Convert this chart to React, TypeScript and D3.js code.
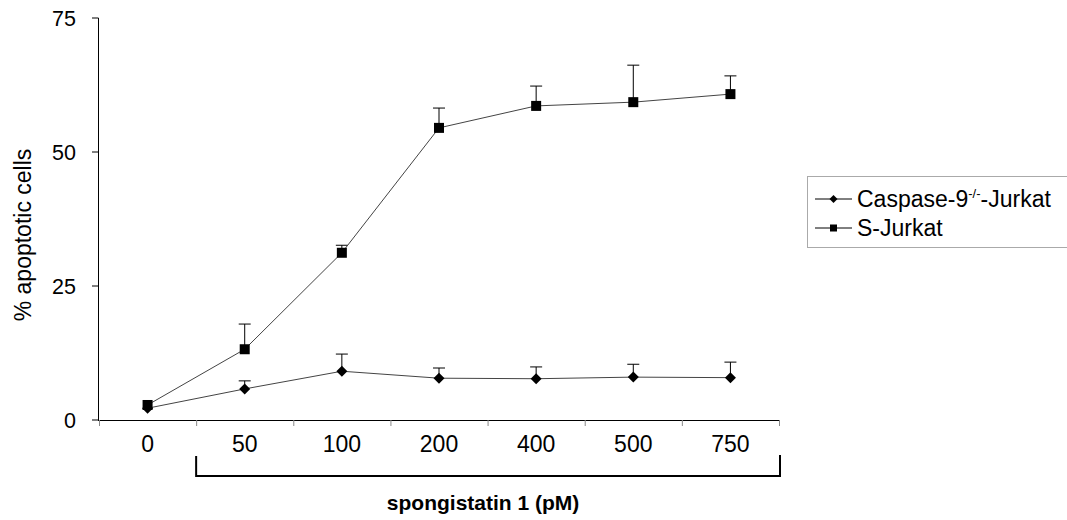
import React from 'react';
import * as d3 from 'd3';

// doses (pM) on the category axis
const doses = ['0', '50', '100', '200', '400', '500', '750'];
const yTicks = [0, 25, 50, 75];

// S-Jurkat (squares)
const sJurkat = [2.8, 13.2, 31.2, 54.5, 58.6, 59.3, 60.8];
const sJurkatErr = [0, 4.7, 1.4, 3.7, 3.7, 6.9, 3.4];

// Caspase-9-/- Jurkat (diamonds)
const casp9 = [2.2, 5.8, 9.1, 7.8, 7.7, 8.0, 7.9];
const casp9Err = [0, 1.5, 3.2, 1.9, 2.2, 2.4, 2.9];

const FONT = '"Liberation Sans", Arial, sans-serif';

const App = () => {
  const x = d3.scaleBand<string>().domain(doses).range([99, 779]).padding(0);
  const y = d3.scaleLinear().domain([0, 75]).range([420, 18]);
  const cx = (d: string) => (x(d) as number) + x.bandwidth() / 2;

  const line = d3.line<number>()
    .x((_, i) => cx(doses[i]))
    .y(v => y(v));

  const bracketLeft = x('50') as number;
  const bracketRight = 780;

  const errBars = (vals: number[], errs: number[], key: string) =>
    vals.map((v, i) => errs[i] > 0 ? (
      <g key={key + i} stroke="#000" strokeWidth={1}>
        <line x1={cx(doses[i])} x2={cx(doses[i])} y1={y(v)} y2={y(v + errs[i])} />
        <line x1={cx(doses[i]) - 6} x2={cx(doses[i]) + 6} y1={y(v + errs[i])} y2={y(v + errs[i])} />
      </g>
    ) : null);

  const square = (px: number, py: number, s: number, key?: string) => (
    <rect key={key} x={px - s / 2} y={py - s / 2} width={s} height={s} fill="#000" />
  );
  const diamond = (px: number, py: number, s: number, key?: string) => (
    <path key={key} d={`M${px},${py - s / 2}L${px + s / 2},${py}L${px},${py + s / 2}L${px - s / 2},${py}Z`} fill="#000" />
  );

  return (
    <svg width={1067} height={520} style={{ position: 'absolute', left: 0, top: 0, background: '#fff' }}
      fontFamily={FONT}>
      {/* y axis */}
      <line x1={98.5} x2={98.5} y1={y(75)} y2={y(0)} stroke="#000" />
      {yTicks.map(t => (
        <g key={t}>
          <line x1={92} x2={98.5} y1={y(t)} y2={y(t)} stroke="#000" />
          <text x={76} y={y(t)} dy="0.35em" textAnchor="end" fontSize={21.5}>{t}</text>
        </g>
      ))}
      <text transform={`translate(31,${(y(0) + y(75)) / 2 + 16}) rotate(-90)`} textAnchor="middle"
        fontSize={23}>% apoptotic cells</text>

      {/* x axis */}
      <line x1={98} x2={780} y1={420.5} y2={420.5} stroke="#000" />
      {[...doses.map(d => x(d) as number), 779].map((t, i) => (
        <line key={i} x1={t + 0.5} x2={t + 0.5} y1={420} y2={426} stroke="#888" />
      ))}
      {doses.map(d => (
        <text key={d} x={cx(d)} y={452} textAnchor="middle" fontSize={23}>{d}</text>
      ))}

      {/* bracket */}
      <path d={`M${bracketLeft},456V476H${bracketRight}V455`} fill="none" stroke="#000" strokeWidth={2} />
      <text x={(bracketLeft + bracketRight) / 2 - 5} y={510} textAnchor="middle" fontSize={21}
        fontWeight="bold">spongistatin 1 (pM)</text>

      {/* error bars */}
      {errBars(sJurkat, sJurkatErr, 's')}
      {errBars(casp9, casp9Err, 'c')}

      {/* lines */}
      <path d={line(sJurkat) as string} fill="none" stroke="#444" strokeWidth={1} />
      <path d={line(casp9) as string} fill="none" stroke="#444" strokeWidth={1} />

      {/* markers */}
      {sJurkat.map((v, i) => square(cx(doses[i]), y(v), 10, 'sq' + i))}
      {casp9.map((v, i) => diamond(cx(doses[i]), y(v), 11, 'dm' + i))}

      {/* legend */}
      <rect x={807.5} y={176.5} width={270} height={71} fill="#fff" stroke="#aaa" />
      <line x1={815} x2={852} y1={199} y2={199} stroke="#000" />
      {diamond(833.5, 199, 8)}
      <text x={857} y={199} dy="0.35em" fontSize={23}>
        Caspase-9<tspan fontSize={13} dy="-9">-/-</tspan><tspan dy="9">-Jurkat</tspan>
      </text>
      <line x1={815} x2={852} y1={228} y2={228} stroke="#000" />
      {square(833.5, 228, 7)}
      <text x={857} y={228} dy="0.35em" fontSize={23}>S-Jurkat</text>
    </svg>
  );
};

export default App;
